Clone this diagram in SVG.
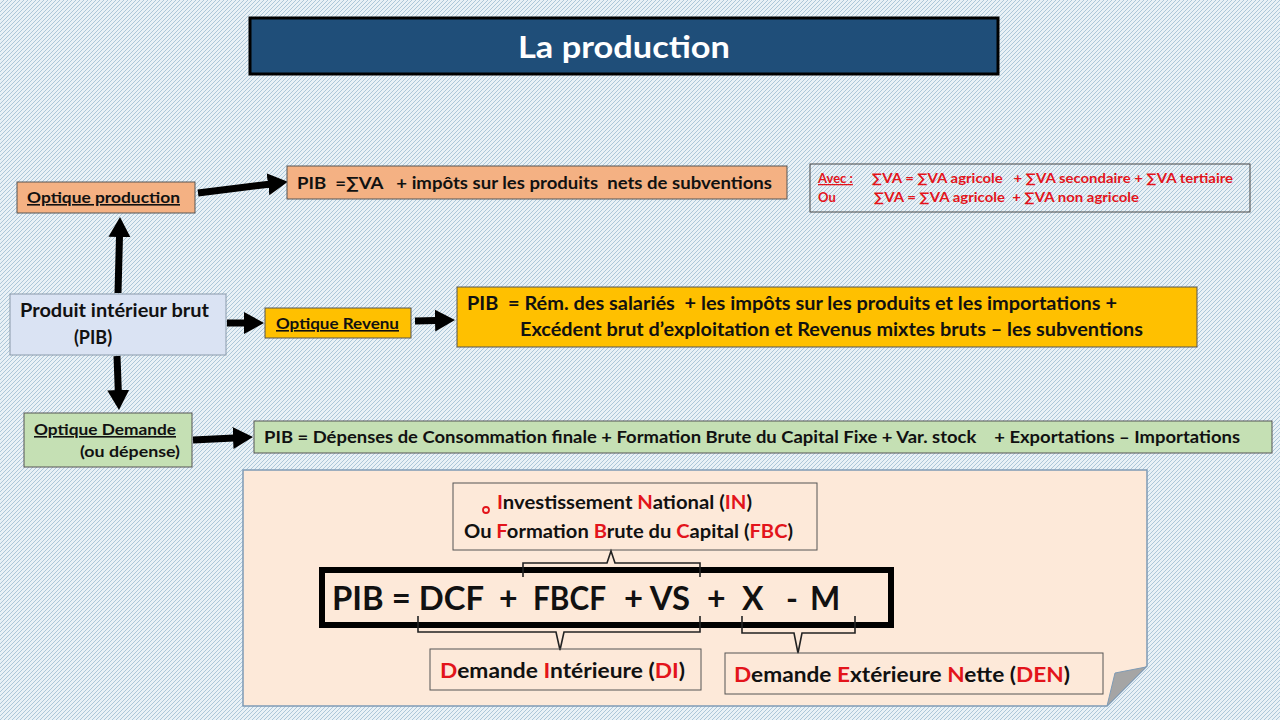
<svg xmlns="http://www.w3.org/2000/svg" width="1280" height="720" viewBox="0 0 1280 720">
<style>
text{font-family:Lato,"Open Sans","Liberation Sans",sans-serif;font-weight:700;fill:#111}
.r{fill:#e3141b}
.u{text-decoration:underline}
.box{stroke:#555;stroke-width:1}
.arr{stroke:#000;stroke-width:7;fill:none;marker-end:url(#ah)}
.brace{stroke:#222;stroke-width:1.6;fill:none}
</style>
<defs>
<pattern id="hatch" width="4" height="4" patternUnits="userSpaceOnUse">
<rect width="4" height="4" fill="#e9f1f6"/>
<path d="M-1,1 L1,-1 M0,4 L4,0 M3,5 L5,3" stroke="#a6c2d6" stroke-width="0.9"/>
</pattern>
<marker id="ah" markerUnits="userSpaceOnUse" markerWidth="22" markerHeight="24" refX="1" refY="12" orient="auto">
<path d="M0,1 L20,12 L0,23 z" fill="#000"/>
</marker>
</defs>
<rect width="1280" height="720" fill="url(#hatch)"/>

<g id="title">
<rect x="250" y="18" width="748" height="56" fill="#1f4e79" stroke="#000" stroke-width="3"/>
<text x="624" y="58" text-anchor="middle" font-size="30" style="fill:#fff" textLength="212" lengthAdjust="spacingAndGlyphs">La production</text>
</g>

<g id="connectors">
<path class="arr" d="M198,193 L269,184.2"/>
<path class="arr" d="M118,293 L119.5,236"/>
<path class="arr" d="M117,356 L118.3,391"/>
<path class="arr" d="M227,323 L245,323"/>
<path class="arr" d="M415,321 L436,320.5"/>
<path class="arr" d="M193,440 L234,438"/>
</g>

<g id="optique-production">
<rect class="box" x="17" y="182" width="178" height="31" fill="#f4b183"/>
<text x="27" y="203" font-size="16" class="u" textLength="153" lengthAdjust="spacingAndGlyphs">Optique production</text>
</g>

<g id="pib-va">
<rect class="box" x="287" y="166" width="500" height="33" fill="#f4b183"/>
<text x="297" y="189" font-size="17" xml:space="preserve" textLength="475" lengthAdjust="spacingAndGlyphs">PIB  =∑VA   + impôts sur les produits  nets de subventions</text>
</g>

<g id="avec">
<rect x="810" y="164" width="440" height="48" fill="none" stroke="#444" stroke-width="1"/>
<text x="818" y="183" font-size="13" class="r u">Avec :</text>
<text x="872" y="183" font-size="13" class="r" xml:space="preserve" textLength="361" lengthAdjust="spacingAndGlyphs">∑VA = ∑VA agricole   + ∑VA secondaire + ∑VA tertiaire</text>
<text x="818" y="202" font-size="13" class="r">Ou</text>
<text x="874" y="202" font-size="13" class="r" xml:space="preserve" textLength="265" lengthAdjust="spacingAndGlyphs">∑VA = ∑VA agricole  + ∑VA non agricole</text>
</g>

<g id="pib">
<rect x="10" y="294" width="216" height="61" fill="#dae3f3" stroke="#8a9aaa" stroke-width="1"/>
<text x="20" y="317" font-size="18" textLength="189" lengthAdjust="spacingAndGlyphs">Produit intérieur brut</text>
<text x="93" y="344" font-size="18" text-anchor="middle">(PIB)</text>
</g>

<g id="optique-revenu">
<rect class="box" x="265" y="308" width="146" height="30" fill="#ffc000"/>
<text x="276" y="329" font-size="16" class="u" textLength="123" lengthAdjust="spacingAndGlyphs">Optique Revenu</text>
</g>

<g id="pib-revenu">
<rect class="box" x="457" y="287" width="740" height="60" fill="#ffc000"/>
<text x="467" y="310" font-size="18" xml:space="preserve" textLength="650" lengthAdjust="spacingAndGlyphs">PIB  = Rém. des salariés  + les impôts sur les produits et les importations +</text>
<text x="520" y="336" font-size="18" textLength="623" lengthAdjust="spacingAndGlyphs">Excédent brut d’exploitation et Revenus mixtes bruts – les subventions</text>
</g>

<g id="optique-demande">
<rect class="box" x="24" y="413" width="168" height="54" fill="#c5e0b4"/>
<text x="34" y="435" font-size="16" class="u" textLength="142" lengthAdjust="spacingAndGlyphs">Optique Demande</text>
<text x="80" y="457" font-size="16" textLength="100" lengthAdjust="spacingAndGlyphs">(ou dépense)</text>
</g>

<g id="pib-demande">
<rect class="box" x="254" y="421" width="1018" height="32" fill="#c5e0b4"/>
<text x="264" y="443" font-size="17" xml:space="preserve" textLength="976" lengthAdjust="spacingAndGlyphs">PIB = Dépenses de Consommation finale + Formation Brute du Capital Fixe + Var. stock    + Exportations – Importations</text>
</g>

<g id="note">
<path d="M243,470 L1147,470 L1147,666 L1107,706 L243,706 Z" fill="#fde9d9" stroke="#7f9bb5" stroke-width="1.5"/>
<path d="M1107,706 L1115,673 L1146,667 Z" fill="#a5a5a5" stroke="#7f9bb5" stroke-width="1"/>
</g>

<g id="in-box">
<rect x="453" y="483" width="364" height="67" fill="none" stroke="#555" stroke-width="1"/>
<circle cx="486" cy="510" r="3" fill="none" stroke="#e3141b" stroke-width="1.8"/>
<text x="497" y="509" font-size="18" textLength="255" lengthAdjust="spacingAndGlyphs"><tspan class="r">I</tspan>nvestissement <tspan class="r">N</tspan>ational (<tspan class="r">IN</tspan>)</text>
<text x="464" y="538" font-size="18" textLength="329" lengthAdjust="spacingAndGlyphs">Ou <tspan class="r">F</tspan>ormation <tspan class="r">B</tspan>rute du <tspan class="r">C</tspan>apital (<tspan class="r">FBC</tspan>)</text>
</g>

<g id="equation">
<rect x="322" y="570" width="569" height="55" fill="none" stroke="#000" stroke-width="6"/>
<text x="332" y="610" font-size="32" textLength="152" lengthAdjust="spacingAndGlyphs">PIB = DCF</text>
<text x="499" y="610" font-size="32">+</text>
<text x="533" y="610" font-size="32" textLength="73" lengthAdjust="spacingAndGlyphs">FBCF</text>
<text x="624" y="610" font-size="32" textLength="66" lengthAdjust="spacingAndGlyphs">+ VS</text>
<text x="707" y="610" font-size="32">+</text>
<text x="742" y="610" font-size="32">X</text>
<text x="786" y="610" font-size="32">-</text>
<text x="810" y="610" font-size="32">M</text>
</g>

<g id="braces">
<path class="brace" d="M523,577 L523,563 L607,563 L611,551 L615,563 L700,563 L700,577"/>
<path class="brace" d="M418,616 L418,632 L556,632 L560,650 L564,632 L700,632 L700,616"/>
<path class="brace" d="M742,616 L742,633 L794,633 L798,653 L802,633 L855,633 L855,616"/>
</g>

<g id="di">
<rect x="430" y="649" width="271" height="41" fill="none" stroke="#555" stroke-width="1"/>
<text x="440" y="678" font-size="20" textLength="245" lengthAdjust="spacingAndGlyphs"><tspan class="r">D</tspan>emande <tspan class="r">I</tspan>ntérieure (<tspan class="r">DI</tspan>)</text>
</g>

<g id="den">
<rect x="725" y="653" width="378" height="41" fill="none" stroke="#555" stroke-width="1"/>
<text x="734" y="682" font-size="20" textLength="336" lengthAdjust="spacingAndGlyphs"><tspan class="r">D</tspan>emande <tspan class="r">E</tspan>xtérieure <tspan class="r">N</tspan>ette (<tspan class="r">DEN</tspan>)</text>
</g>
</svg>
